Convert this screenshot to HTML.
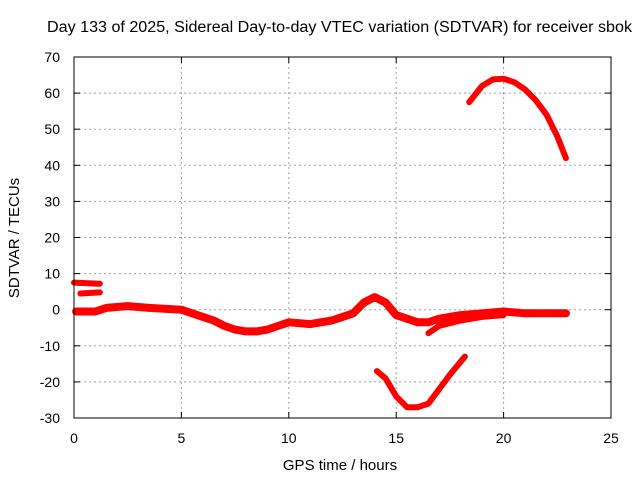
<!DOCTYPE html>
<html><head><meta charset="utf-8"><style>
body{margin:0;background:#fff}
svg text{font-family:"Liberation Sans",sans-serif;font-size:14px;fill:#000}
</style></head><body>
<svg id="chart" width="640" height="480" xmlns="http://www.w3.org/2000/svg">
<text x="47" y="32" textLength="585" lengthAdjust="spacingAndGlyphs" style="font-size:15.5px">Day 133 of 2025, Sidereal Day-to-day VTEC variation (SDTVAR) for receiver sbok</text>
<g id="grid"></g>
<g id="ticks"></g>
<g id="series"></g>
<rect x="74" y="57" width="537" height="361" fill="none" stroke="#000" stroke-width="1"/>
<text x="340" y="470" text-anchor="middle" style="font-size:15px">GPS time / hours</text>
<text transform="translate(19,238) rotate(-90)" text-anchor="middle" style="font-size:15px">SDTVAR / TECUs</text>
</svg>
<script>
const xTicks=[0,5,10,15,20,25];
const yTicks=[-30,-20,-10,0,10,20,30,40,50,60,70];
const mainX=[0.1,1,1.5,2.5,3.5,5,6,6.5,7,7.5,8,8.5,9,9.5,10,11,12,12.5,13,13.5,14,14.5,15,15.5,16,16.5,17,18,19,20,21,22,22.9];
const mainY=[-0.5,-0.5,0.5,1,0.5,0,-2,-3,-4.5,-5.5,-6,-6,-5.5,-4.5,-3.5,-4,-3,-2,-1,2,3.5,2,-1.5,-2.5,-3.5,-3.5,-2.5,-1.5,-1,-0.5,-1,-1,-1];
const upperX=[0,1.2];const upperY=[7.5,7.2];
const midX=[0.3,1.2];const midY=[4.5,4.8];
const lowX=[16.5,17,18,19,20];const lowY=[-6.5,-4.5,-3,-2,-1.5];
const dipX=[14.1,14.5,15,15.5,16,16.5,17,17.5,18.2];
const dipY=[-17,-19,-24,-27,-27,-26,-22,-18,-13];
const arcX=[18.4,19,19.5,20,20.5,21,21.5,22,22.5,22.9];
const arcY=[57.5,62,63.8,64,63,61,58,54,48,42];
const NS='http://www.w3.org/2000/svg';
const sx=v=>74+v*537/25, sy=v=>418-(v+30)*361/100;
const grid=document.getElementById('grid'),ticks=document.getElementById('ticks'),ser=document.getElementById('series');
function mk(t,a,p){const e=document.createElementNS(NS,t);for(const k in a)e.setAttribute(k,a[k]);p.appendChild(e);return e;}
xTicks.forEach(v=>{const x=sx(v);
 if(v>0&&v<25){const l=mk('line',{x1:x,x2:x,y1:57,y2:418,stroke:'#a0a0a0','stroke-dasharray':'2,3'},grid);
 
 }
 const t=mk('text',{x:x,y:443,'text-anchor':'middle'},ticks);t.textContent=v;
 
 
 mk('line',{x1:x,x2:x,y1:418,y2:412,stroke:'#000'},ticks);mk('line',{x1:x,x2:x,y1:57,y2:63,stroke:'#000'},ticks);});
yTicks.forEach(v=>{const y=sy(v);
 if(v>-30&&v<70){const l=mk('line',{x1:74,x2:611,y1:y,y2:y,stroke:'#a0a0a0','stroke-dasharray':'2,3'},grid);
 
 }
 const t=mk('text',{x:60,y:y+5,'text-anchor':'end'},ticks);t.textContent=v;
 
 
 mk('line',{x1:74,x2:80,y1:y,y2:y,stroke:'#000'},ticks);mk('line',{x1:611,x2:605,y1:y,y2:y,stroke:'#000'},ticks);});
function line(xs,ys,w,name){const p=xs.map((x,i)=>sx(x).toFixed(1)+','+sy(ys[i]).toFixed(1)).join(' ');
 const e=mk('polyline',{points:p,fill:'none',stroke:'#ff0000','stroke-width':w,'stroke-linejoin':'round','stroke-linecap':'round'},ser);
 
 }
line(mainX,mainY,8,'series-main');
line(upperX,upperY,6,'series-upper');
line(midX,midY,6,'series-mid');
line(lowX,lowY,6,'series-low');
line(dipX,dipY,6,'series-dip');
line(arcX,arcY,6,'series-arc');
</script>
</body></html>
